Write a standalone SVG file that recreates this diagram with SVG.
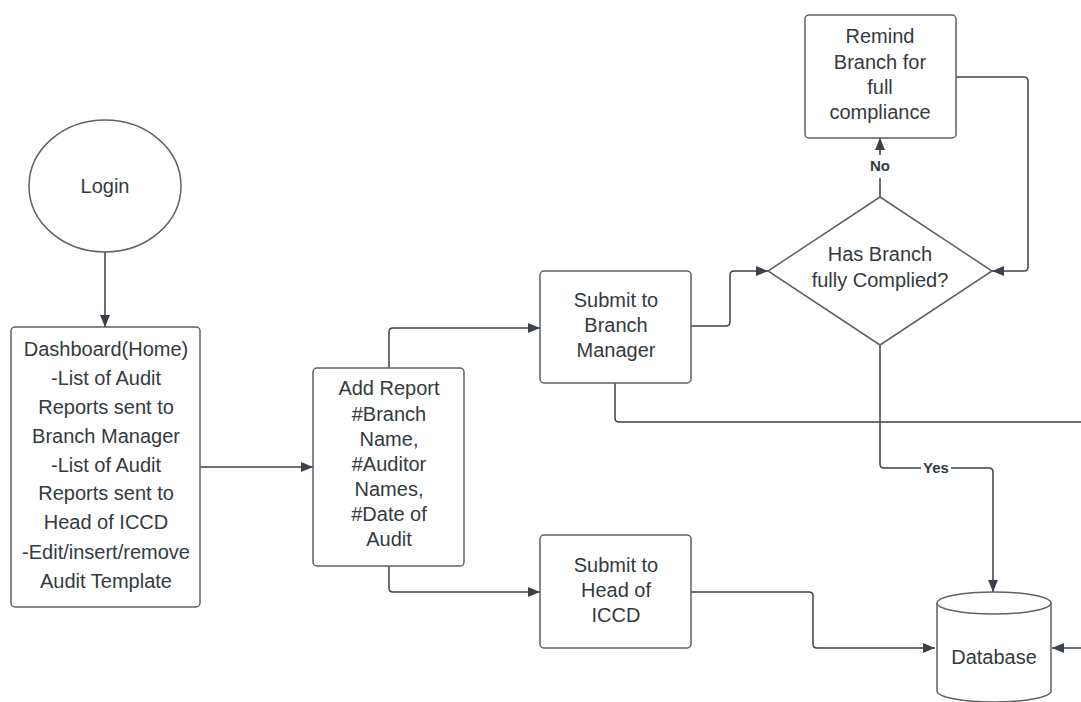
<svg xmlns="http://www.w3.org/2000/svg" width="1081" height="702" viewBox="0 0 1081 702">
<defs>
<marker id="ah" markerWidth="12" markerHeight="10" refX="12" refY="5" orient="auto" markerUnits="userSpaceOnUse">
<path d="M0,0 L12,5 L0,10 Z" fill="#3a414a"/>
</marker>
<style>
.shape{fill:#ffffff;stroke:#5e6166;stroke-width:1.5}
.t{font-family:"Liberation Sans",Arial,sans-serif;font-size:20px;fill:#333a40;text-anchor:middle}
.lbl{font-family:"Liberation Sans",Arial,sans-serif;font-size:15px;font-weight:bold;fill:#333a40;text-anchor:middle}
.c{fill:none;stroke:#3a414a;stroke-width:1.5;stroke-linejoin:round}
</style>
</defs>
<rect width="1081" height="702" fill="#ffffff"/>
<g id="connectors">
<path class="c" d="M105,252 V327" marker-end="url(#ah)"/>
<path class="c" d="M200,467 H313" marker-end="url(#ah)"/>
<path class="c" d="M389,368 V332 Q389,328 393,328 H540" marker-end="url(#ah)"/>
<path class="c" d="M389,566 V588 Q389,592 393,592 H540" marker-end="url(#ah)"/>
<path class="c" d="M691,326 H726 Q730,326 730,322 V275 Q730,271 734,271 H768" marker-end="url(#ah)"/>
<path class="c" d="M880,197 V178"/>
<path class="c" d="M880,155 V138" marker-end="url(#ah)"/>
<path class="c" d="M956,77 H1024 Q1028,77 1028,81 V267 Q1028,271 1024,271 H992" marker-end="url(#ah)"/>
<path class="c" d="M615,383 V418 Q615,422 619,422 H1081"/>
<path class="c" d="M880,345 V464 Q880,468 884,468 H921"/>
<path class="c" d="M951,468 H989 Q993,468 993,472 V592" marker-end="url(#ah)"/>
<path class="c" d="M691,592 H809 Q813,592 813,596 V644 Q813,648 817,648 H935" marker-end="url(#ah)"/>
<path class="c" d="M1081,648 H1052" marker-end="url(#ah)"/>
<text class="lbl" x="880" y="171">No</text>
<text class="lbl" x="936" y="473">Yes</text>
</g>
<g id="login">
<ellipse class="shape" cx="105" cy="186" rx="76" ry="66"/>
<text class="t" x="105" y="193">Login</text>
</g>
<g id="dashboard">
<rect class="shape" x="11" y="327" width="189" height="280" rx="4"/>
<text class="t" x="106" y="356">Dashboard(Home)</text>
<text class="t" x="106" y="385">-List of Audit</text>
<text class="t" x="106" y="414">Reports sent to</text>
<text class="t" x="106" y="443">Branch Manager</text>
<text class="t" x="106" y="472">-List of Audit</text>
<text class="t" x="106" y="500">Reports sent to</text>
<text class="t" x="106" y="529">Head of ICCD</text>
<text class="t" x="106" y="559">-Edit/insert/remove</text>
<text class="t" x="106" y="588">Audit Template</text>
</g>
<g id="add-report">
<rect class="shape" x="313" y="368" width="151" height="198" rx="4"/>
<text class="t" x="389" y="395">Add Report</text>
<text class="t" x="389" y="421">#Branch</text>
<text class="t" x="389" y="446">Name,</text>
<text class="t" x="389" y="471">#Auditor</text>
<text class="t" x="389" y="496">Names,</text>
<text class="t" x="389" y="521">#Date of</text>
<text class="t" x="389" y="546">Audit</text>
</g>
<g id="submit-bm">
<rect class="shape" x="540" y="271" width="151" height="112" rx="4"/>
<text class="t" x="616" y="307">Submit to</text>
<text class="t" x="616" y="332">Branch</text>
<text class="t" x="616" y="357">Manager</text>
</g>
<g id="submit-iccd">
<rect class="shape" x="540" y="535" width="151" height="113" rx="4"/>
<text class="t" x="616" y="572">Submit to</text>
<text class="t" x="616" y="597">Head of</text>
<text class="t" x="616" y="622">ICCD</text>
</g>
<g id="decision">
<polygon class="shape" points="880,197 992,271 880,345 768,271"/>
<text class="t" x="880" y="261">Has Branch</text>
<text class="t" x="880" y="287">fully Complied?</text>
</g>
<g id="remind">
<rect class="shape" x="805" y="15" width="151" height="123" rx="4"/>
<text class="t" x="880" y="43">Remind</text>
<text class="t" x="880" y="69">Branch for</text>
<text class="t" x="880" y="94">full</text>
<text class="t" x="880" y="119">compliance</text>
</g>
<g id="database">
<path class="shape" d="M937,603 V691 A57,11 0 0 0 1051,691 V603"/>
<ellipse class="shape" cx="994" cy="603" rx="57" ry="11"/>
<text class="t" x="994" y="664">Database</text>
</g>
</svg>
